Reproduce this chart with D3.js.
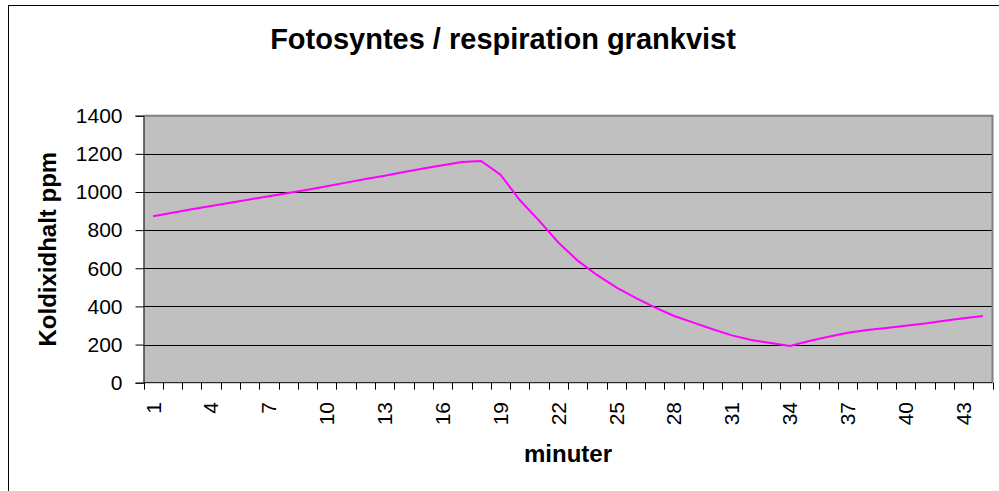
<!DOCTYPE html>
<html>
<head>
<meta charset="utf-8">
<script src="https://cdn.jsdelivr.net/npm/d3@7"></script>
<style>
  body { margin: 0; background: #fff; }
  text { font-family: Arial, "Liberation Sans", sans-serif; fill: #000; }
</style>
</head>
<body>
<div id="chart"></div>
<script>
// minutes 1..44 and CO2 reading (ppm)
const minutes = d3.range(1, 45);
const co2 = [873, 891, 909, 927, 944, 961, 978, 995, 1012, 1030,
  1049, 1068, 1085, 1105, 1123, 1140, 1157, 1163, 1091, 958,
  850, 735, 640, 565, 500, 445, 395, 350, 315, 280,
  248, 224, 208, 192, 219, 241, 262, 276, 287, 299,
  310, 325, 338, 350];
const yTicks = [0, 200, 400, 600, 800, 1000, 1200, 1400];
const xLabels = [1, 4, 7, 10, 13, 16, 19, 22, 25, 28, 31, 34, 37, 40, 43];

const width = 999, height = 491;
const plot = { left: 143.5, right: 992.5, top: 115.7, bottom: 382.7 };

const svg = d3.select("#chart").append("svg")
  .attr("width", width)
  .attr("height", height);

// outer chart frame
svg.append("rect")
  .attr("x", 8.5).attr("y", 5.5)
  .attr("width", 1100).attr("height", 600)
  .attr("fill", "none")
  .attr("stroke", "#000");

const xScale = d3.scaleBand()
  .domain(minutes)
  .range([plot.left, plot.right]);

const yScale = d3.scaleLinear()
  .domain([0, 1400])
  .range([plot.bottom, plot.top]);

// plot background
svg.append("rect")
  .attr("x", plot.left).attr("y", plot.top)
  .attr("width", plot.right - plot.left)
  .attr("height", plot.bottom - plot.top)
  .attr("fill", "#c0c0c0");

// gridlines
svg.append("g")
  .selectAll("line")
  .data(yTicks.filter(d => d > 0 && d < 1400))
  .join("line")
  .attr("x1", plot.left).attr("x2", plot.right)
  .attr("y1", d => Math.round(yScale(d)) + 0.5)
  .attr("y2", d => Math.round(yScale(d)) + 0.5)
  .attr("stroke", "#000");

// top and right border of plot area
svg.append("path")
  .attr("d", `M${plot.left},${plot.top} H${plot.right} V${plot.bottom}`)
  .attr("fill", "none")
  .attr("stroke", "#808080")
  .attr("stroke-width", 2);

// y axis
const yAxis = d3.axisLeft(yScale)
  .tickValues(yTicks)
  .tickFormat(d3.format("d"))
  .tickSize(8)
  .tickPadding(13);

svg.append("g")
  .attr("transform", `translate(${plot.left}, 0)`)
  .call(yAxis)
  .call(g => g.select(".domain").attr("stroke", "#000"))
  .call(g => g.selectAll("text")
    .style("font-size", "21px")
    .style("font-family", "Arial, 'Liberation Sans', sans-serif"));

// x axis line and ticks at category boundaries
const xg = svg.append("g");
xg.append("line")
  .attr("x1", plot.left).attr("x2", plot.right)
  .attr("y1", plot.bottom).attr("y2", plot.bottom)
  .attr("stroke", "#000");

const bounds = minutes.map(d => xScale(d)).concat([xScale(44) + xScale.bandwidth()]);
xg.selectAll(".xtick")
  .data(bounds)
  .join("line")
  .attr("class", "xtick")
  .attr("x1", d => Math.round(d) + 0.5).attr("x2", d => Math.round(d) + 0.5)
  .attr("y1", plot.bottom).attr("y2", plot.bottom + 7)
  .attr("stroke", "#000");

xg.selectAll(".xlabel")
  .data(xLabels)
  .join("text")
  .attr("class", "xlabel")
  .attr("transform", d => `translate(${xScale(d) + xScale.bandwidth() / 2}, 402) rotate(-90)`)
  .attr("dy", "0.35em")
  .attr("text-anchor", "end")
  .style("font-size", "21px")
  .text(d => d);

// the series
const line = d3.line()
  .x((d, i) => xScale(minutes[i]) + xScale.bandwidth() / 2)
  .y(d => yScale(d));

svg.append("path")
  .datum(co2)
  .attr("d", line)
  .attr("fill", "none")
  .attr("stroke", "#ff00ff")
  .attr("stroke-width", 2);

// titles
svg.append("text")
  .attr("x", 503).attr("y", 49)
  .attr("text-anchor", "middle")
  .style("font-size", "29px")
  .style("font-weight", "bold")
  .text("Fotosyntes / respiration grankvist");

svg.append("text")
  .attr("x", (plot.left + plot.right) / 2).attr("y", 462)
  .attr("text-anchor", "middle")
  .style("font-size", "24px")
  .style("font-weight", "bold")
  .text("minuter");

svg.append("text")
  .attr("transform", `translate(56, ${(plot.top + plot.bottom) / 2}) rotate(-90)`)
  .attr("text-anchor", "middle")
  .style("font-size", "24px")
  .style("font-weight", "bold")
  .text("Koldixidhalt ppm");
</script>
</body>
</html>
